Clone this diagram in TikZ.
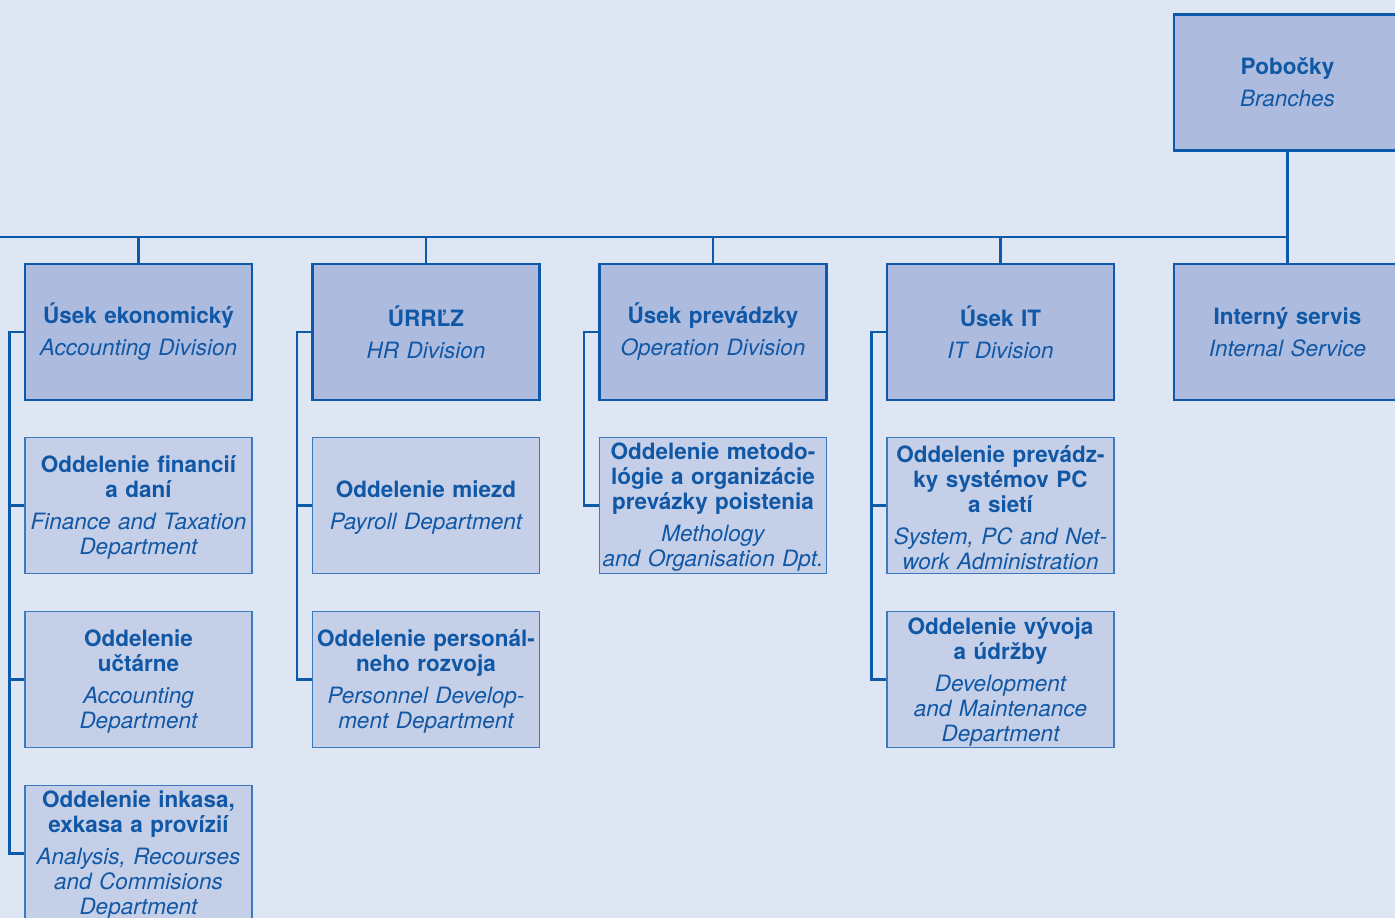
\documentclass[tikz,border=0pt]{standalone}
\usepackage{fontspec}
\setmainfont{TeX Gyre Heros}
\definecolor{bgc}{RGB}{223,230,243}
\definecolor{topfill}{RGB}{173,187,223}
\definecolor{subfill}{RGB}{198,207,232}
\definecolor{linec}{RGB}{14,90,170}
\definecolor{subline}{RGB}{60,122,192}
\definecolor{txtc}{RGB}{16,88,166}
\tikzset{
  topbox/.style={draw=linec, line width=2.6pt, fill=topfill, minimum width=227pt, minimum height=136pt,
    text width=225pt, align=center, inner sep=0pt, text=txtc,
    font=\fontsize{22.5}{25}\selectfont},
  subbox/.style={draw=subline, line width=1.3pt, fill=subfill, minimum width=227pt, minimum height=136pt,
    text width=226pt, align=center, inner sep=0pt, text=txtc,
    font=\fontsize{22.5}{25}\selectfont},
  conn/.style={draw=linec, line width=2.6pt}
}
\newcommand{\bi}[2]{{\bfseries #1\par}\vspace{7pt}{\itshape #2\par}}
\newcommand{\bs}[2]{{\bfseries #1\par}\vspace{7pt}{\itshape #2\par}\vspace{-4pt}}
\begin{document}
\begin{tikzpicture}[x=1pt,y=-1pt]
\fill[bgc] (0,0) rectangle (1395,918);
\clip (0,0) rectangle (1395,918);
\useasboundingbox (0,0) rectangle (1395,918);
% top-level
\node[topbox] (pob) at (1287.5,82.5) {\bi{Pobočky}{Branches}};
\node[topbox] (t1) at (138.5,332) {\bi{Úsek ekonomický}{Accounting Division}};
\node[topbox] (t2) at (426,332) {\bi{ÚRRĽZ}{HR Division}};
\node[topbox] (t3) at (713,332) {\bi{Úsek prevádzky}{Operation Division}};
\node[topbox] (t4) at (1000.5,332) {\bi{Úsek IT}{IT Division}};
\node[topbox] (t5) at (1287.5,332) {\bi{Interný servis}{Internal Service}};
% sub-boxes
\node[subbox] (s11) at (138.5,505.5) {\bs{Oddelenie financií\\a daní}{Finance and Taxation\\Department}};
\node[subbox] (s12) at (138.5,679.5) {\bs{Oddelenie\\učtárne}{Accounting\\Department}};
\node[subbox] (s13) at (138.5,853.5) {\bs{Oddelenie inkasa,\\exkasa a provízií}{Analysis, Recourses\\and Commisions\\Department}};
\node[subbox] (s21) at (426,505.5) {\bs{Oddelenie miezd}{Payroll Department}};
\node[subbox] (s22) at (426,679.5) {\bs{Oddelenie personál-\\neho rozvoja}{Personnel Develop-\\ment Department}};
\node[subbox] (s31) at (713,505.5) {\bs{Oddelenie metodo-\\lógie a organizácie\\prevázky poistenia}{Methology\\and Organisation Dpt.}};
\node[subbox] (s41) at (1000.5,505.5) {\bs{Oddelenie prevádz-\\ky systémov PC\\a sietí}{System, PC and Net-\\work Administration}};
\node[subbox] (s42) at (1000.5,679.5) {\bs{Oddelenie vývoja\\a údržby}{Development\\and Maintenance\\Department}};
% bus
\coordinate (busL) at (0,237);
\draw[conn] (busL) -- (pob.south |- busL);
\draw[conn] (pob.south) -- (t5.north);
\foreach \n in {t1,t2,t3,t4}{\draw[conn] (\n.north) -- (\n.north |- busL);}
% side connectors
\draw[conn] (t1.west) -| ([xshift=-15pt]s13.west) -- (s13.west);
\draw[conn] (s11.west) -- ++(-15,0);
\draw[conn] (s12.west) -- ++(-15,0);
\draw[conn] (t2.west) -| ([xshift=-15pt]s22.west) -- (s22.west);
\draw[conn] (s21.west) -- ++(-15,0);
\draw[conn] (t3.west) -| ([xshift=-15pt]s31.west) -- (s31.west);
\draw[conn] (t4.west) -| ([xshift=-15pt]s42.west) -- (s42.west);
\draw[conn] (s41.west) -- ++(-15,0);
\end{tikzpicture}
\end{document}
